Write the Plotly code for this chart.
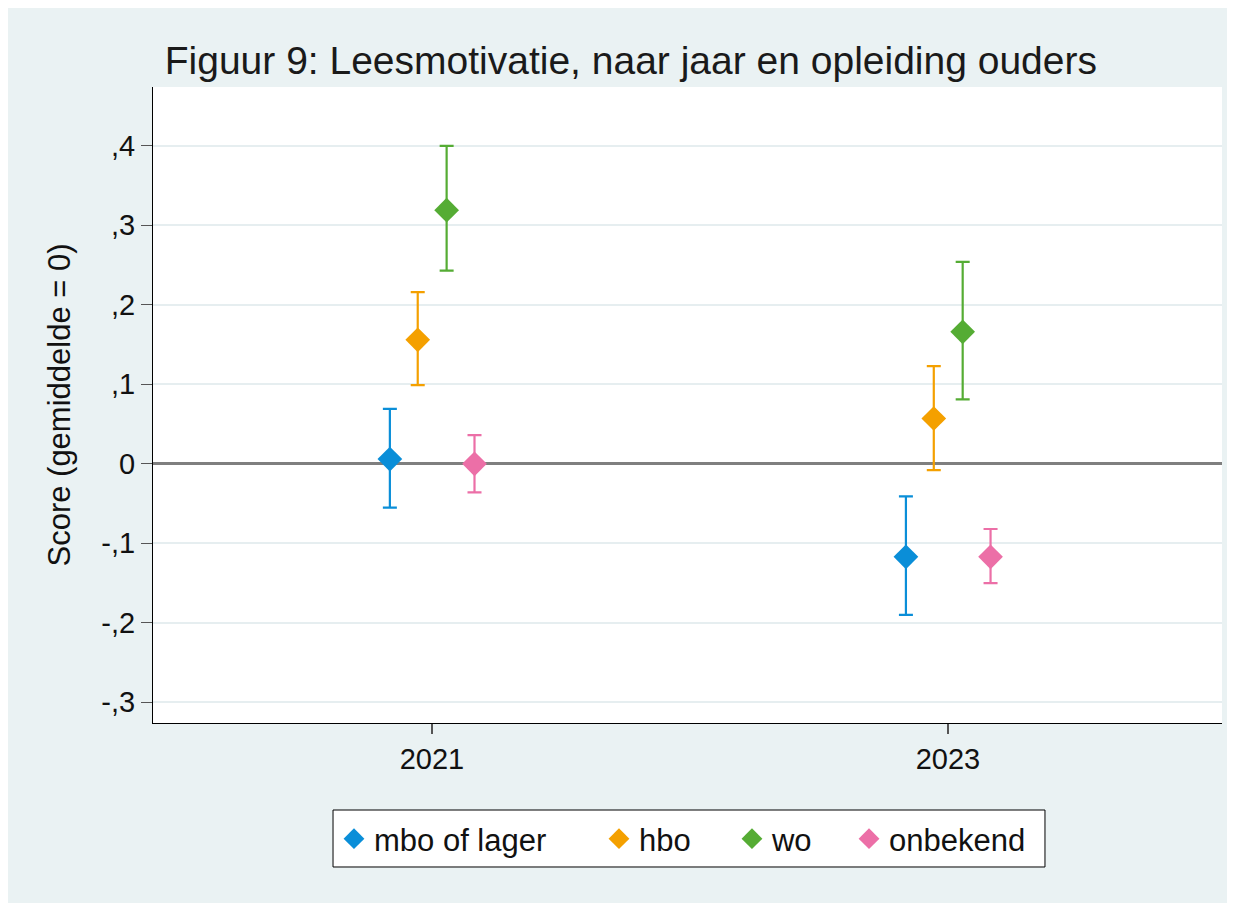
import plotly.graph_objects as go

# data (Stata output)
years = [2021, 2023]
groups = ["mbo of lager", "hbo", "wo", "onbekend"]
score = {
    "mbo of lager": [0.006, -0.117],
    "hbo": [0.156, 0.057],
    "wo": [0.319, 0.166],
    "onbekend": [0.000, -0.117],
}
ci_low = {
    "mbo of lager": [-0.055, -0.190],
    "hbo": [0.099, -0.008],
    "wo": [0.243, 0.081],
    "onbekend": [-0.036, -0.150],
}
ci_high = {
    "mbo of lager": [0.069, -0.041],
    "hbo": [0.216, 0.123],
    "wo": [0.400, 0.254],
    "onbekend": [0.036, -0.082],
}
ytick_vals = [-0.3, -0.2, -0.1, 0, 0.1, 0.2, 0.3, 0.4]
ytick_text = ["-,3", "-,2", "-,1", "0", ",1", ",2", ",3", ",4"]

colors = {
    "mbo of lager": "#0A8ED8",
    "hbo": "#F4A000",
    "wo": "#55AC34",
    "onbekend": "#EC6FA7",
}
# horizontal dodge of each group around the year
dodge = {"mbo of lager": -0.163, "hbo": -0.055, "wo": 0.057, "onbekend": 0.165}
# each legend entry gets its own legend so the spacing can follow the Stata legend
legend_ids = {"mbo of lager": "legend", "hbo": "legend2", "wo": "legend3", "onbekend": "legend4"}
legend_x = {"mbo of lager": 0.1693, "hbo": 0.4172, "wo": 0.5416, "onbekend": 0.6511}

FONT = "Arial, Liberation Sans, sans-serif"

fig = go.Figure()
for g in groups:
    fig.add_trace(
        go.Scatter(
            name=g,
            legend=legend_ids[g],
            x=[y + dodge[g] for y in years],
            y=score[g],
            mode="markers",
            marker=dict(color=colors[g], size=19, symbol="diamond", line=dict(width=0)),
            error_y=dict(
                type="data",
                symmetric=False,
                array=[h - s for h, s in zip(ci_high[g], score[g])],
                arrayminus=[s - l for s, l in zip(score[g], ci_low[g])],
                color=colors[g],
                thickness=2.2,
                width=7,
            ),
        )
    )

legends = {}
for g in groups:
    legends[legend_ids[g]] = dict(
        orientation="h",
        x=legend_x[g],
        xanchor="left",
        y=-0.1824,
        yanchor="middle",
        bgcolor="rgba(0,0,0,0)",
        borderwidth=0,
        font=dict(size=31, color="#111111"),
    )

fig.update_layout(
    width=1227,
    height=895,
    paper_bgcolor="#EAF2F3",
    plot_bgcolor="white",
    margin=dict(l=145, r=13, t=79, b=180),
    font=dict(family=FONT, size=29, color="#111111"),
    title=dict(
        text="Figuur 9: Leesmotivatie, naar jaar en opleiding ouders",
        font=dict(size=39, color="#1a1a1a"),
        xref="paper",
        x=0.011,
        xanchor="left",
        yref="container",
        y=1 - 52 / 895,
        yanchor="middle",
    ),
    showlegend=True,
    **legends,
    shapes=[
        dict(
            type="rect", xref="paper", yref="paper",
            x0=0.1684, x1=0.8344, y0=-0.2264, y1=-0.1368,
            fillcolor="white", line=dict(color="black", width=1), layer="above",
        ),
    ],
)
fig.update_xaxes(
    range=[2019.919, 2024.062],
    tickvals=years,
    ticktext=[str(y) for y in years],
    showgrid=False,
    zeroline=False,
    showline=True,
    linecolor="black",
    linewidth=1,
    ticks="outside",
    ticklen=10,
    tickcolor="#555555",
    tickwidth=2,
    tickfont=dict(size=29),
)
fig.update_yaxes(
    range=[-0.326, 0.474],
    tickvals=ytick_vals,
    ticktext=ytick_text,
    showgrid=True,
    gridcolor="#E6EEF0",
    gridwidth=2,
    zeroline=True,
    zerolinecolor="#7F7F7F",
    zerolinewidth=2.5,
    showline=True,
    linecolor="black",
    linewidth=1,
    ticks="outside",
    ticklen=11,
    tickcolor="#555555",
    tickwidth=1,
    tickfont=dict(size=29),
    title=dict(text="Score (gemiddelde = 0)", font=dict(size=31), standoff=21),
)

fig.write_html("out.html")
